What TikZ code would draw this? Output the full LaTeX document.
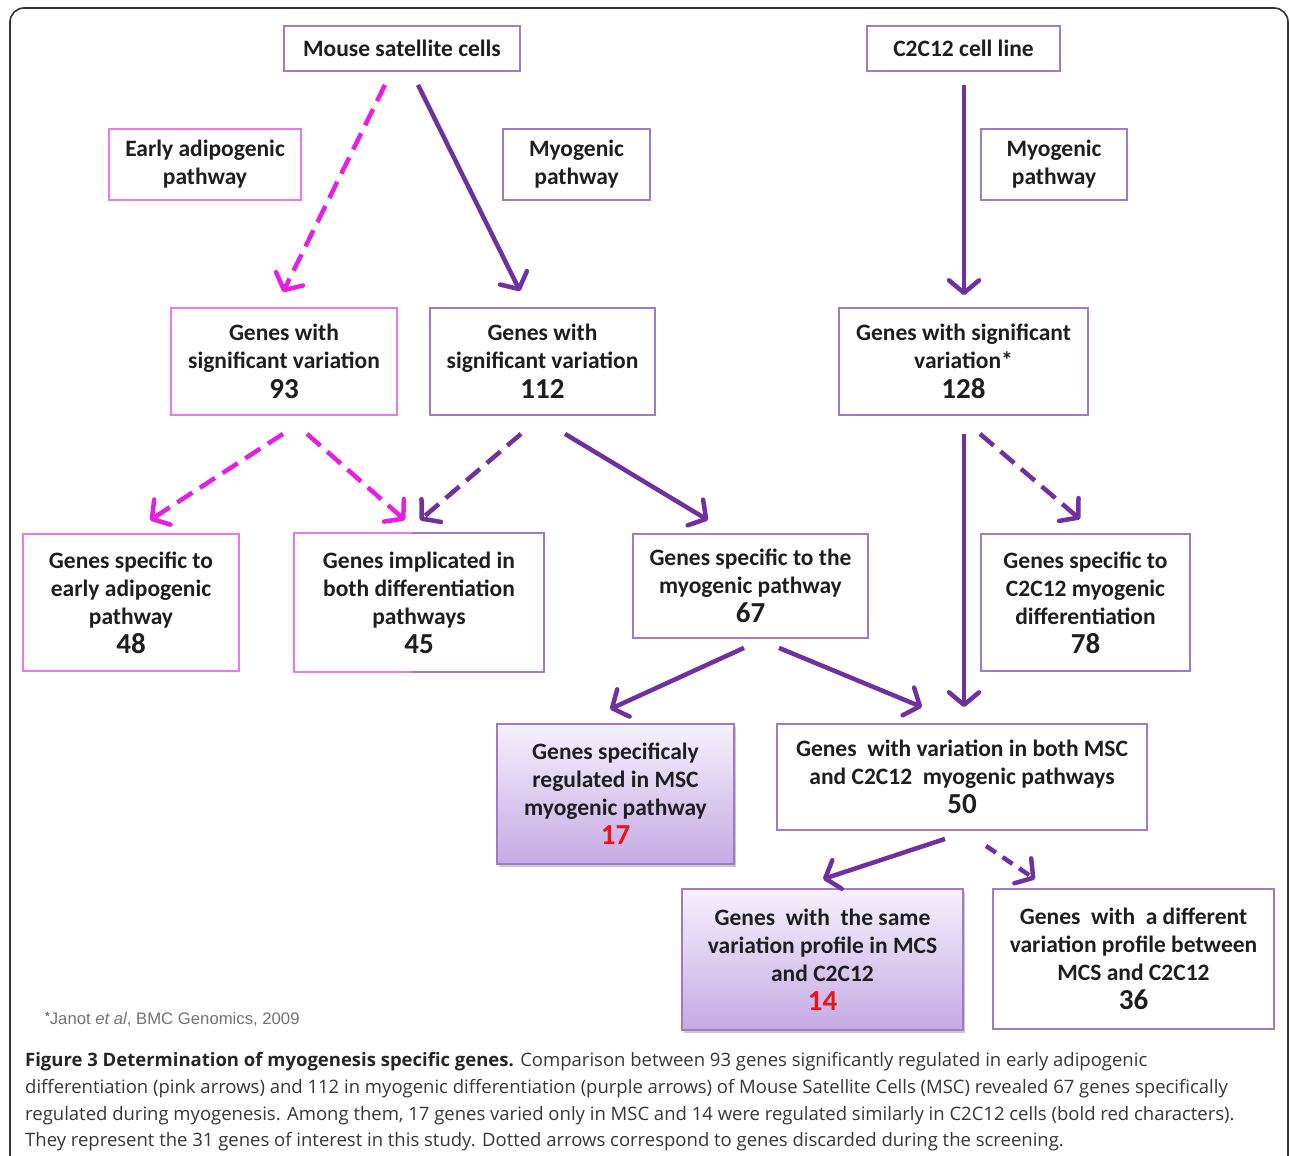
\documentclass[tikz,border=0pt]{standalone}
\usepackage{fontspec}
\setmainfont{Carlito}
\newfontfamily\capfont{Open Sans}
\newfontfamily\notefont{Liberation Sans}
\usetikzlibrary{arrows.meta,shadows,calc}
\definecolor{pinkA}{RGB}{230,30,228}
\definecolor{purpleA}{RGB}{112,48,160}
\definecolor{pinkB}{RGB}{236,118,236}
\definecolor{purpleB}{RGB}{160,122,200}
\definecolor{txt}{RGB}{30,30,30}
\definecolor{capgray}{RGB}{55,55,55}
\definecolor{gradtop}{RGB}{246,241,252}
\definecolor{gradbot}{RGB}{196,170,228}
\definecolor{rednum}{RGB}{235,20,20}
\newcommand{\nm}[1]{{\fontsize{29}{30}\selectfont #1}}
\newcommand{\rnm}[1]{{\fontsize{29}{30}\selectfont\color{rednum}#1}}
\begin{document}
\begin{tikzpicture}[x=1pt,y=-1pt,
  box/.style={rectangle, draw=purpleB, line width=1.8pt, fill=white, inner sep=0pt,
    align=center, font=\fontsize{23.5}{28}\selectfont\bfseries, text=txt},
  pbox/.style={box, draw=pinkB},
  gbox/.style={box, top color=gradtop, bottom color=gradbot,
    drop shadow={shadow xshift=2pt, shadow yshift=-3pt, opacity=0.35, fill=black!60}},
  sz/.style 2 args={minimum width=#1pt, minimum height=#2pt},
  arrbase/.style={line width=4.5pt, -{Straight Barb[length=12.5pt,width=30pt,round]}},
  parr/.style={arrbase, draw=pinkA},
  uarr/.style={arrbase, draw=purpleA},
  dsh/.style={dash pattern=on 18pt off 9pt},
  frame/.style={draw=black!80, line width=1.6pt, rounded corners=14pt},
  captext/.style={anchor=base west, inner sep=0pt, font=\capfont\fontsize{18.5}{22}\selectfont, text=capgray},
]
\useasboundingbox (0,0) rectangle (1290,1156);
\fill[white] (0,0) rectangle (1290,1156);
\draw[frame] (10,1180) -- (10,8) -- (1288,8) -- (1288,1180);

% top row
\node[box, sz={236}{45}] (msc) at (402,48.5) {Mouse satellite cells};
\node[box, sz={193}{45}] (c2c) at (963.5,48.5) {C2C12 cell line};
\node[pbox, sz={192}{71}] (adip) at (205,164.5) {Early adipogenic\\pathway};
\node[box, sz={147}{71}] (myo1) at (576.5,164.5) {Myogenic\\pathway};
\node[box, sz={146}{71}] (myo2) at (1054,164.5) {Myogenic\\pathway};

% second row
\node[pbox, sz={226}{107}] (n93) at (284,361.5) {Genes with\\significant variation\\[2pt]\nm{93}};
\node[box, sz={225}{107}] (n112) at (542.5,361.5) {Genes with\\significant variation\\[2pt]\nm{112}};
\node[box, sz={249}{107}] (n128) at (963.5,361.5) {Genes with significant\\variation*\\[2pt]\nm{128}};

% third row
\node[pbox, sz={216}{137}] (n48) at (131,602.5) {Genes specific to\\early adipogenic\\pathway\\[1pt]\nm{48}};
\node[box, draw=none, sz={248}{137}] (n45) at (419,602.5) {Genes implicated in\\both differentiation\\pathways\\[1pt]\nm{45}};
\draw[draw=pinkB, line width=1.8pt] ([xshift=-7pt]n45.north) -| (n45.south west) -- ([xshift=-7pt]n45.south);
\draw[draw=purpleB, line width=1.8pt] ([xshift=-7pt]n45.north) -| (n45.south east) -- ([xshift=-7pt]n45.south);
\node[box, sz={235}{104}] (n67) at (750.5,586) {Genes specific to the\\myogenic pathway\\[1pt]\nm{67}};
\node[box, sz={209}{137}] (n78) at (1085.5,602.5) {Genes specific to\\C2C12 myogenic\\differentiation\\[1pt]\nm{78}};

% fourth row
\node[gbox, sz={237}{140}] (n17) at (615.5,794) {Genes specificaly\\regulated in MSC\\myogenic pathway\\[1pt]\rnm{17}};
\node[box, sz={370}{106}] (n50) at (962,777) {Genes\ \ with variation in both MSC\\and C2C12\ \ myogenic pathways\\[1pt]\nm{50}};

% fifth row
\node[gbox, sz={281}{141}] (n14) at (822.5,959.5) {Genes\ \ with\ \ the same\\variation profile in MCS\\and C2C12\\[1pt]\rnm{14}};
\node[box, sz={281}{140}] (n36) at (1133.5,959) {Genes\ \ with\ \ a different\\variation profile between\\MCS and C2C12\\[1pt]\nm{36}};

% arrows
\draw[parr, dsh] ([xshift=-17pt,yshift=-13pt]msc.south) -- ([xshift=-1pt,yshift=15pt]n93.north);
\draw[uarr] ([xshift=16pt,yshift=-13pt]msc.south) -- ([xshift=-22.5pt,yshift=16pt]n112.north);
\draw[uarr] ([xshift=0.5pt,yshift=-13pt]c2c.south) -- ([xshift=0.5pt,yshift=12pt]n128.north);
\draw[parr, dsh] ([xshift=-1pt,yshift=-18pt]n93.south) -- ([xshift=19pt,yshift=13pt]n48.north);
\draw[parr, dsh] ([xshift=23pt,yshift=-18pt]n93.south) -- ([xshift=-14pt,yshift=13pt]n45.north);
\draw[uarr, dsh] ([xshift=-21.5pt,yshift=-18pt]n112.south) -- ([xshift=1pt,yshift=13pt]n45.north);
\draw[uarr] ([xshift=22.5pt,yshift=-18pt]n112.south) -- ([xshift=-42.5pt,yshift=13pt]n67.north);
\draw[uarr] ([xshift=0.5pt,yshift=-18pt]n128.south) -- ([xshift=2pt,yshift=16pt]n50.north);
\draw[uarr, dsh] ([xshift=16.5pt,yshift=-18pt]n128.south) -- ([xshift=-5.5pt,yshift=14pt]n78.north);
\draw[uarr] ([xshift=-6.5pt,yshift=-9pt]n67.south) -- ([xshift=-5.5pt,yshift=14pt]n17.north);
\draw[uarr] ([xshift=28.5pt,yshift=-9pt]n67.south) -- ([xshift=-40pt,yshift=16pt]n50.north);
\draw[uarr] ([xshift=-17pt,yshift=-8pt]n50.south) -- ([xshift=0.5pt,yshift=9pt]n14.north);
\draw[uarr, dash pattern=on 12pt off 8pt] ([xshift=24pt,yshift=-15pt]n50.south) -- ([xshift=-98.5pt,yshift=9pt]n36.north);

% footnote
\node[anchor=base west, inner sep=0pt, text=black!55, font=\notefont\fontsize{16.7}{19}\selectfont] (note) at (45,1024)
  {\raisebox{4pt}{\fontsize{12}{12}\selectfont\bfseries*}Janot \textit{et al}, BMC Genomics, 2009};

% caption
\node[captext] (cap1) at (25,1066) {{\bfseries\color{black!85}Figure 3 Determination of myogenesis specific genes.} Comparison between 93 genes significantly regulated in early adipogenic};
\node[captext] (cap2) at (25,1093) {differentiation (pink arrows) and 112 in myogenic differentiation (purple arrows) of Mouse Satellite Cells (MSC) revealed 67 genes specifically};
\node[captext] (cap3) at (25,1120) {regulated during myogenesis. Among them, 17 genes varied only in MSC and 14 were regulated similarly in C2C12 cells (bold red characters).};
\node[captext] (cap4) at (25,1146) {They represent the 31 genes of interest in this study. Dotted arrows correspond to genes discarded during the screening.};
\end{tikzpicture}
\end{document}
